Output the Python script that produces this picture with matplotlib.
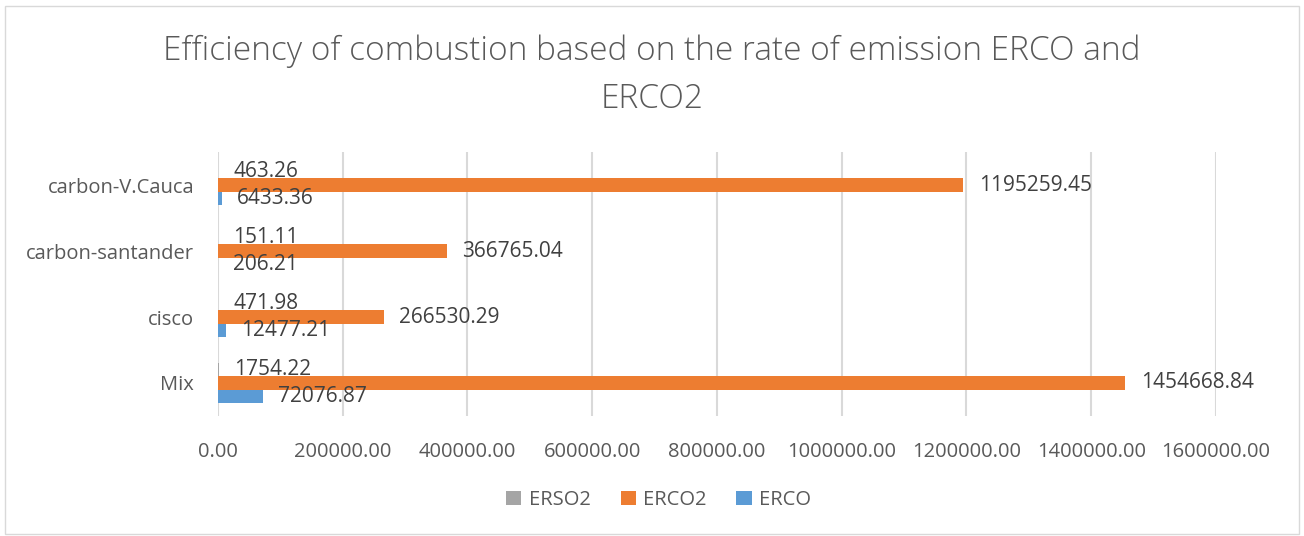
import matplotlib
matplotlib.use("Agg")
import matplotlib.pyplot as plt
import numpy as np

categories = ["Mix", "cisco", "carbon-santander", "carbon-V.Cauca"]
erco = [72076.87, 12477.21, 206.21, 6433.36]
erco2 = [1454668.84, 266530.29, 366765.04, 1195259.45]
erso2 = [1754.22, 471.98, 151.11, 463.26]
series_names = ["ERCO", "ERCO2", "ERSO2"]
colors = ["#5B9BD5", "#ED7D31", "#A5A5A5"]
xticks = [0, 200000, 400000, 600000, 800000, 1000000, 1200000, 1400000, 1600000]

plt.rcParams['font.family'] = ['Open Sans', 'DejaVu Sans']
txt = "#595959"

fig = plt.figure(figsize=(13.04, 5.36), dpi=100)
ax = fig.add_axes([0.167, 0.224, 0.7655, 0.492])

y = np.arange(len(categories))
h = 0.205
series = [erco, erco2, erso2]
for i, (vals, name, c) in enumerate(zip(series, series_names, colors)):
    pos = y + (i - 1) * h
    ax.barh(pos, vals, height=h, color=c, label=name, zorder=3)
    for p, v in zip(pos, vals):
        ax.annotate(f"{v:.2f}", xy=(v, p), xytext=(11, 0), textcoords="offset points",
                    va="center", ha="left", fontsize=15, color="#404040", zorder=4)

ax.set_xlim(0, 1600000)
ax.set_ylim(-0.5, 3.5)
ax.set_xticks(xticks)
ax.set_xticklabels([f"{t:.2f}" for t in xticks], fontsize=14.5, color=txt)
ax.set_yticks(y)
ax.set_yticklabels(categories, fontsize=14.5, color=txt)
ax.tick_params(axis="y", length=0, pad=17)
ax.tick_params(axis="x", length=0, pad=19)
ax.grid(axis="x", color="#D9D9D9", linewidth=1.5, zorder=0)
for s in ax.spines.values():
    s.set_visible(False)

fig.suptitle("Efficiency of combustion based on the rate of emission ERCO and\nERCO2",
             y=0.935, fontsize=24, color=txt, linespacing=1.55, fontweight="light")

handles, labels = ax.get_legend_handles_labels()
fig.legend(handles[::-1], labels[::-1], loc="center", bbox_to_anchor=(0.505, 0.067),
           ncol=3, frameon=False, fontsize=14.5, labelcolor=txt,
           handlelength=0.75, handleheight=0.75, columnspacing=1.5, handletextpad=0.35)

border = plt.Rectangle((0.004, 0.004), 0.992, 0.985, transform=fig.transFigure,
                       fill=False, edgecolor="#D9D9D9", linewidth=1)
fig.patches.append(border)

fig.savefig("out.png", dpi=100)
